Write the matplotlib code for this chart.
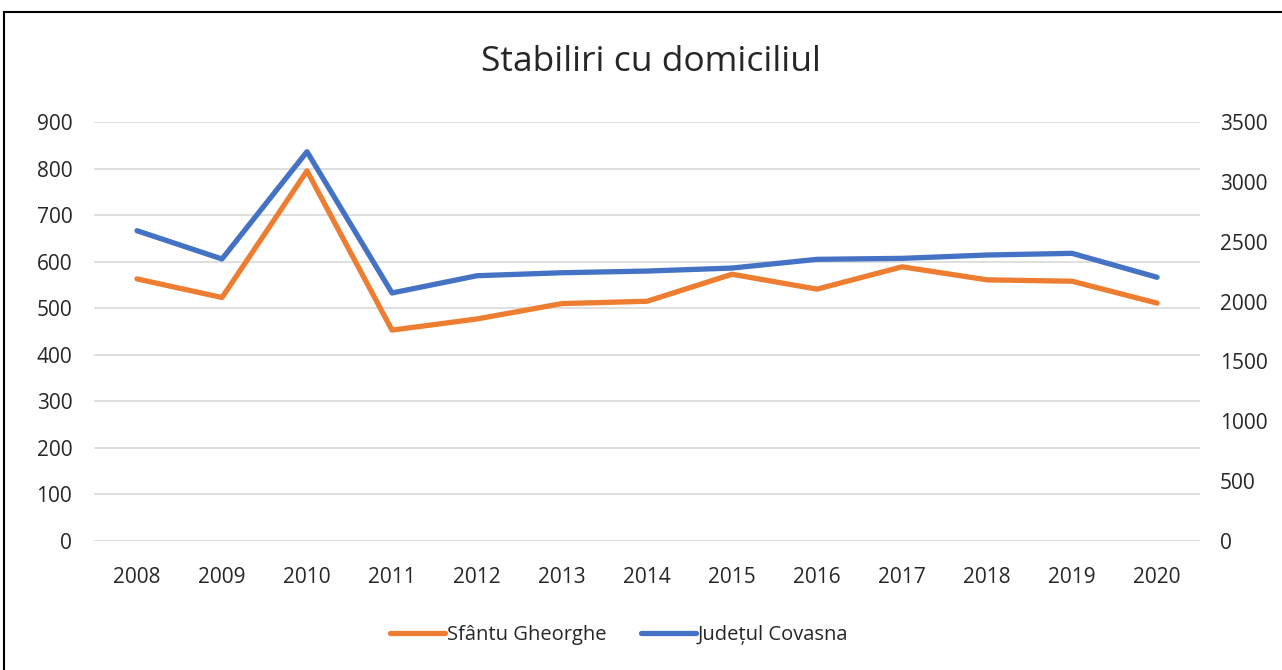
import matplotlib
matplotlib.use("Agg")
import matplotlib.pyplot as plt
from matplotlib.lines import Line2D

years = ["2008", "2009", "2010", "2011", "2012", "2013", "2014",
         "2015", "2016", "2017", "2018", "2019", "2020"]
sfantu = [563, 523, 795, 453, 477, 510, 515, 573, 541, 589, 561, 558, 511]
covasna = [2592, 2356, 3252, 2072, 2216, 2241, 2255, 2280, 2353, 2361, 2389, 2403, 2203]
left_ticks = [0, 100, 200, 300, 400, 500, 600, 700, 800, 900]
right_ticks = [0, 500, 1000, 1500, 2000, 2500, 3000, 3500]

plt.rcParams['font.family'] = ['Open Sans', 'DejaVu Sans']
txt = '#262626'

fig = plt.figure(figsize=(12.82, 6.70), dpi=100)
ax = fig.add_axes([0.0737, 0.1925, 0.862, 0.6254])
ax2 = ax.twinx()

x = list(range(len(years)))
l1, = ax.plot(x, sfantu, color='#ED7D31', lw=3.8, solid_joinstyle='round', solid_capstyle='round', zorder=3)
l2, = ax2.plot(x, covasna, color='#4472C4', lw=3.8, solid_joinstyle='round', solid_capstyle='round', zorder=3)

ax.set_xlim(-0.5, len(years) - 0.5)
ax.set_ylim(0, 900)
ax2.set_ylim(0, 3500)
ax.set_yticks(left_ticks)
ax2.set_yticks(right_ticks)
ax.set_xticks(x)
ax.set_xticklabels(years)

for a in (ax, ax2):
    for s in a.spines.values():
        s.set_visible(False)
    a.tick_params(length=0, labelsize=15, labelcolor=txt)
ax.tick_params(axis='y', pad=16)
ax2.tick_params(axis='y', pad=14.5)
ax.tick_params(axis='x', pad=19)
ax.yaxis.grid(True, color='#d9d9d9', lw=1.2)
ax.set_axisbelow(True)

fig.text(0.508, 0.907, "Stabiliri cu domiciliul", ha='center', va='center', fontsize=25.5, color=txt)

fig.legend([l1, l2], ["Sfântu Gheorghe", "Județul Covasna"], loc='center', bbox_to_anchor=(0.483, 0.052),
           ncol=2, frameon=False, fontsize=14.5, labelcolor=txt, handlelength=2.7, handletextpad=0.1,
           columnspacing=1.75)

fig.add_artist(Line2D([4/1282, 4/1282], [0, 1 - 12/670], color='black', lw=1.5, transform=fig.transFigure))
fig.add_artist(Line2D([4/1282, 1], [1 - 12/670, 1 - 12/670], color='black', lw=1.5, transform=fig.transFigure))

fig.savefig("out.png", dpi=100)
